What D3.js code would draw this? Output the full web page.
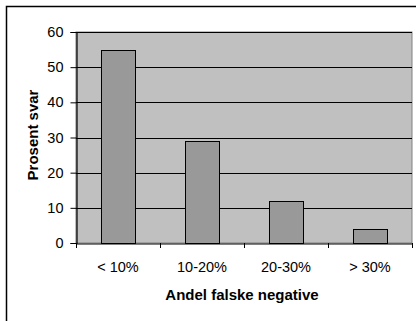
<!DOCTYPE html>
<html><head><meta charset="utf-8">
<script src="https://cdn.jsdelivr.net/npm/d3@7"></script>
<style>body{margin:0;background:#fff}svg{display:block}text{font-family:"Liberation Sans",Arial,sans-serif}</style>
</head><body><svg width="416" height="321"></svg>
<script>
const categories = ["< 10%", "10-20%", "20-30%", "> 30%"];
const values = [55, 29, 12, 4];
const yTicks = [0, 10, 20, 30, 40, 50, 60];
const xTitle = "Andel falske negative";
const yTitle = "Prosent svar";

const svg = d3.select("svg");
const L = 76, R = 412, T = 32, B = 243;
const FONT = '"Liberation Sans",Arial,sans-serif';

// outer border
svg.append("rect").attr("x", 6.5).attr("y", 6.5).attr("width", 420).attr("height", 330)
  .attr("fill", "#fff").attr("stroke", "#000").attr("stroke-width", 1.5);

const x = d3.scaleBand().domain(categories).range([L, R]).paddingInner(0.6).paddingOuter(0.3);
const xc = d3.scaleBand().domain(categories).range([L, R]);
const y = d3.scaleLinear().domain([0, 60]).range([B, T]);

svg.append("rect").attr("x", L).attr("y", T).attr("width", R - L).attr("height", B - T)
  .attr("fill", "#c0c0c0").attr("stroke", "#808080").attr("stroke-width", 1);

svg.append("g").selectAll("line").data(yTicks.filter(d => d > 0)).join("line")
  .attr("x1", L).attr("x2", R).attr("y1", d => Math.round(y(d)) + 0.5).attr("y2", d => Math.round(y(d)) + 0.5)
  .attr("stroke", "#000").attr("stroke-width", 1);

svg.append("g").selectAll("rect").data(values).join("rect")
  .attr("x", (d, i) => Math.round(x(categories[i])) + 0.5)
  .attr("y", d => Math.round(y(d)) + 0.5)
  .attr("width", Math.round(x.bandwidth()))
  .attr("height", d => B - Math.round(y(d)))
  .attr("fill", "#999999").attr("stroke", "#000").attr("stroke-width", 1);

// y axis
const ya = svg.append("g").attr("transform", `translate(${L + 0.5},0)`)
  .call(d3.axisLeft(y).tickValues(yTicks).tickSize(6).tickPadding(7).tickFormat(d3.format("d")));
ya.select(".domain").attr("stroke", "#000").attr("stroke-width", 1.2);
ya.selectAll(".tick line").attr("stroke", "#000");
ya.selectAll("text").attr("font-size", 14.5).attr("fill", "#000").style("font-family", FONT);

// x axis
const xa = svg.append("g").attr("transform", `translate(0,${B + 0.5})`)
  .call(d3.axisBottom(xc).tickSize(0).tickPadding(18));
xa.select(".domain").attr("stroke", "#000").attr("stroke-width", 1.2);
xa.selectAll("text").attr("font-size", 14.5).attr("fill", "#000").style("font-family", FONT);
svg.append("g").selectAll("line").data(d3.range(categories.length + 1)).join("line")
  .attr("x1", i => Math.round(L + i * xc.step()) + 0.5).attr("x2", i => Math.round(L + i * xc.step()) + 0.5)
  .attr("y1", B).attr("y2", B + 5).attr("stroke", "#000");

svg.append("text").attr("x", 242).attr("y", 300).attr("text-anchor", "middle")
  .attr("font-size", 15).attr("font-weight", "bold").text(xTitle);
svg.append("text").attr("transform", `translate(38,${135}) rotate(-90)`).attr("text-anchor", "middle")
  .attr("font-size", 15).attr("font-weight", "bold").text(yTitle);
</script></body></html>
